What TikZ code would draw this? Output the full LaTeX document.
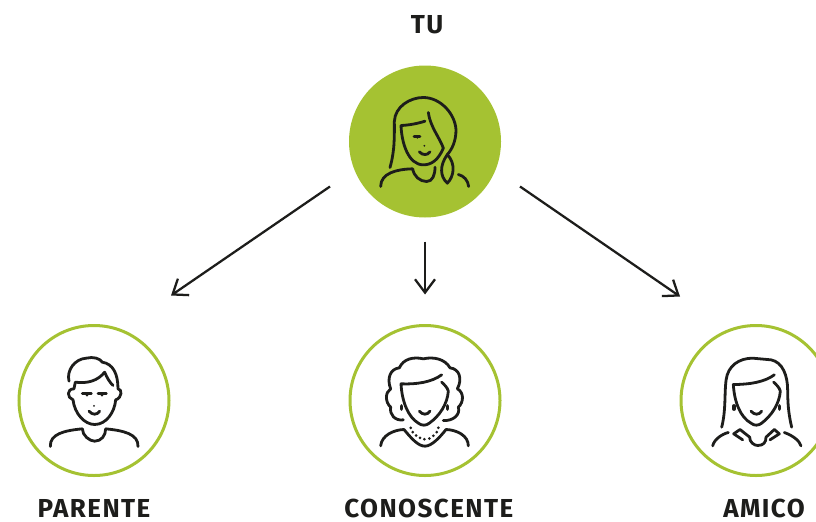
\documentclass[tikz,border=0pt]{standalone}
\usepackage{fontspec}
\setmainfont{Fira Sans}
\usepackage{xcolor}
\usetikzlibrary{arrows.meta,positioning}

\definecolor{verde}{HTML}{A5C232}
\definecolor{inchiostro}{HTML}{1D1D1B}

\tikzset{
    tratto/.style={draw=inchiostro, line width=2.1pt, line cap=round, line join=round},
    pics/occhi/.style={code={
        \draw[tratto] (#1-31,225) -- (#1-15,225);
        \draw[tratto] (#1+12,225) -- (#1+30,225);
        \fill[inchiostro] (#1-23,229) circle (5.5);
        \fill[inchiostro] (#1+21,229) circle (5.5);
    }},
    % TU
    pics/visotu/.style={code={
        \begin{scope}[shift={(-255,-245)}]
        \draw[tratto] (150,323) .. controls (165,270) and (163,225) .. (163,185)
            .. controls (165,140) and (210,113) .. (250,113)
            .. controls (300,113) and (345,160) .. (348,210)
            .. controls (348,245) and (335,270) .. (322,284);
        \draw[tratto] (322,284) .. controls (298,318) and (300,350) .. (322,370)
            .. controls (342,350) and (348,312) .. (322,284);
        \draw[tratto] (265,158) .. controls (270,200) and (300,235) .. (310,265);
        \draw[tratto] (255,184) .. controls (230,192) and (205,196) .. (183,197)
            .. controls (185,250) and (205,315) .. (250,315)
            .. controls (275,315) and (295,300) .. (310,265);
        \draw[tratto] (222,229) -- (240,229);
        \fill[inchiostro] (232,232) circle (5);
        \fill[inchiostro] (253,258) circle (3);
        \draw[tratto] (238,276) .. controls (248,287) and (262,287) .. (270,276);
        \draw[tratto] (122,380) .. controls (122,340) and (170,328) .. (218,327)
            .. controls (222,350) and (240,365) .. (260,365)
            .. controls (278,365) and (285,345) .. (285,322);
        \draw[tratto] (355,344) .. controls (372,348) and (384,362) .. (386,380);
        \end{scope}
    }},
    % PARENTE
    pics/visoparente/.style={code={
        \begin{scope}[shift={(-253,-240)}]
        \draw[tratto] (178,182) .. controls (170,150) and (195,115) .. (230,113)
            .. controls (250,108) and (270,113) .. (278,125)
            .. controls (310,130) and (325,160) .. (325,205)
            .. controls (338,205) and (338,232) .. (318,238)
            .. controls (315,275) and (290,312) .. (255,312)
            .. controls (225,312) and (195,280) .. (190,238)
            .. controls (172,232) and (170,205) .. (193,205)
            -- (197,185) .. controls (235,190) and (265,180) .. (285,155)
            .. controls (292,172) and (300,185) .. (310,195);
        \draw[tratto] (218,218) -- (245,218);
        \draw[tratto] (265,218) -- (290,218);
        \fill[inchiostro] (232,224) circle (4);
        \fill[inchiostro] (277,224) circle (4);
        \fill[inchiostro] (253,256) circle (3);
        \draw[tratto] (238,272) .. controls (248,284) and (262,284) .. (270,272);
        \draw[tratto] (122,378) .. controls (120,340) and (165,330) .. (218,325)
            .. controls (218,345) and (240,362) .. (255,362)
            .. controls (275,362) and (288,345) .. (288,325)
            .. controls (340,330) and (387,340) .. (385,378);
        \end{scope}
    }},
    % CONOSCENTE
    pics/visoconoscente/.style={code={
        \begin{scope}[shift={(-255,-240)}]
        \draw[tratto] (190,298) .. controls (165,302) and (148,282) .. (152,260)
            .. controls (135,245) and (135,215) .. (152,205)
            .. controls (140,175) and (150,145) .. (178,142)
            .. controls (190,115) and (220,108) .. (250,115)
            .. controls (280,108) and (315,115) .. (330,142)
            .. controls (358,145) and (368,175) .. (352,205)
            .. controls (372,215) and (372,245) .. (355,260)
            .. controls (362,282) and (340,302) .. (310,300);
        \draw[tratto] (305,163) .. controls (275,185) and (230,192) .. (183,190)
            .. controls (186,245) and (205,290) .. (235,308)
            .. controls (245,316) and (258,316) .. (268,308)
            .. controls (300,285) and (322,250) .. (325,212)
            .. controls (322,200) and (312,192) .. (305,185);
        \pic {occhi=255};
        \draw[tratto] (238,272) .. controls (248,284) and (262,284) .. (270,272);
        \draw[tratto, line width=2.6pt] (185,256) -- (185,266);
        \draw[tratto, line width=2.6pt] (322,256) -- (322,266);
        \foreach \px/\py in {212/322,218/335,228/345,240/352,253/356,268/354,280/346,290/335,295/322}
            \fill[inchiostro] (\px,\py) circle (4.5);
        \draw[tratto] (122,376) .. controls (125,345) and (160,328) .. (192,327)
            .. controls (215,355) and (235,377) .. (255,377)
            .. controls (275,377) and (300,350) .. (318,327)
            .. controls (350,328) and (385,345) .. (385,376);
        \end{scope}
    }},
    % AMICO
    pics/visoamico/.style={code={
        \begin{scope}[shift={(-255,-240)}]
        \draw[tratto] (152,320) .. controls (165,270) and (160,220) .. (165,180)
            .. controls (170,135) and (205,113) .. (245,113)
            -- (300,118) .. controls (335,125) and (350,165) .. (350,210)
            .. controls (350,260) and (355,290) .. (362,320);
        \draw[tratto] (310,163) .. controls (280,185) and (235,192) .. (187,192)
            .. controls (190,245) and (208,290) .. (240,308)
            .. controls (250,316) and (262,316) .. (272,308)
            .. controls (302,285) and (325,250) .. (328,212)
            .. controls (325,200) and (315,192) .. (308,185);
        \pic {occhi=257};
        \draw[tratto] (240,272) .. controls (250,284) and (264,284) .. (272,272);
        \draw[tratto, line width=2.6pt] (189,256) -- (189,266);
        \draw[tratto, line width=2.6pt] (326,256) -- (326,266);
        \draw[tratto] (215,358) -- (188,340) -- (207,327) -- (236,350)
            .. controls (235,365) and (250,375) .. (260,375)
            .. controls (278,375) and (285,365) .. (285,350)
            -- (310,327) -- (325,340) -- (297,358);
        \draw[tratto] (125,376) .. controls (130,355) and (155,340) .. (172,336);
        \draw[tratto] (340,336) .. controls (365,345) and (385,360) .. (390,376);
        \end{scope}
    }}
}

\begin{document}
\begin{tikzpicture}[
        x=0.75pt, y=-0.75pt,
        node distance=81pt and 135.75pt,
        pieno/.style={circle, fill=verde, inner sep=0pt, outer sep=0pt, minimum size=114pt},
        anello/.style={circle, draw=verde, line width=2.25pt, inner sep=0pt, outer sep=0pt, minimum size=112.5pt},
        etichetta/.style={font=\fontsize{19.5}{20}\selectfont\bfseries\addfontfeature{LetterSpace=5.5}, text=inchiostro, inner sep=0pt, text height=13.4pt, text depth=0pt},
        line/.style={-{Straight Barb[length=10pt,width=15pt]}, draw=inchiostro, line width=1.7pt}
    ]
    \useasboundingbox (0,0) rectangle (816,521);

    % CERCHI
    \node[pieno] (tu) at (425,141.5) {};
    \node[anello, below=of tu] (conoscente) {};
    \node[anello, left=of conoscente] (parente) {};
    \node[anello, right=of conoscente] (amico) {};

    % VISI
    \pic[scale=1/3] at (tu) {visotu};
    \pic[scale=1/3] at (parente) {visoparente};
    \pic[scale=1/3] at (conoscente) {visoconoscente};
    \pic[scale=1/3] at (amico) {visoamico};

    % ETICHETTE
    \node[etichetta, above=23.6pt of tu, xshift=1.5pt] (tutesto) {TU};
    \node[etichetta, below=18pt of parente] (parentetesto) {PARENTE};
    \node[etichetta, below=18pt of conoscente, xshift=2.8pt] (conoscentetesto) {CONOSCENTE};
    \node[etichetta, below=18pt of amico, xshift=6pt] (amicotesto) {AMICO};

    % FRECCE
    \draw[line] ([shift={(-95,45)}]tu.center) -- ([shift={(77,-30)}]parente.north);
    \draw[line] ([shift={(0,100)}]tu.center) -- ([yshift=23.25pt]conoscente.north);
    \draw[line] ([shift={(95,45)}]tu.center) -- ([shift={(-76,-29)}]amico.north);

\end{tikzpicture}
\end{document}
